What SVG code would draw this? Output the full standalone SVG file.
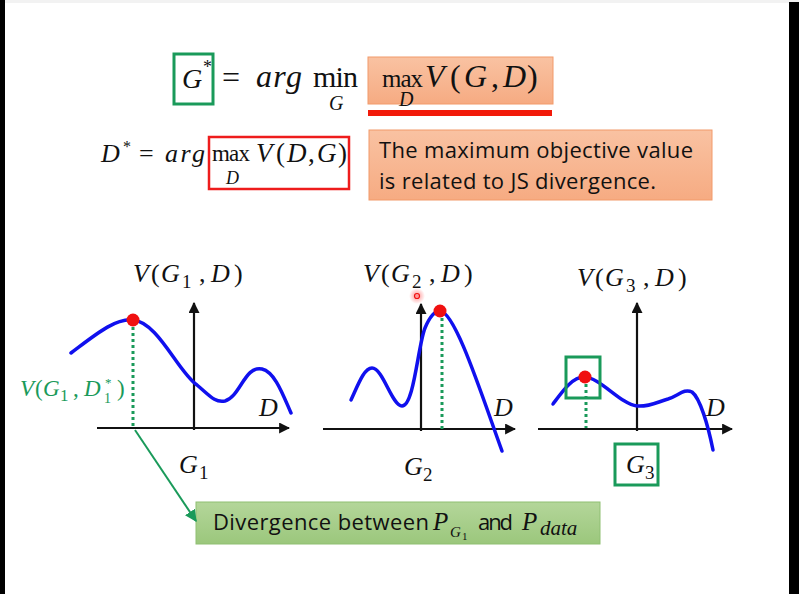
<svg xmlns="http://www.w3.org/2000/svg" width="799" height="594" viewBox="0 0 799 594">
<style>
.m{font-family:"Liberation Serif","DejaVu Serif",serif;fill:#111}
.i{font-style:italic}
.g{fill:#1a9a5a}
.t{font-family:"Open Sans","Liberation Sans",sans-serif;fill:#111}
.ax{stroke:#111;stroke-width:2.2;fill:none}
.cv{stroke:#1010ee;stroke-width:3.5;fill:none;stroke-linecap:round}
.dot{fill:#f01010}
.dt{stroke:#1a9a5a;stroke-width:3;stroke-dasharray:3 3;fill:none}
.gb{fill:none;stroke:#1a9a5a;stroke-width:3}
</style>
<defs>
<marker id="ah" viewBox="0 0 10 10" refX="9" refY="5" markerWidth="5" markerHeight="5" orient="auto"><path d="M0,0 L10,5 L0,10 z" fill="#111"/></marker>
<marker id="ag" viewBox="0 0 10 10" refX="9" refY="5" markerWidth="6" markerHeight="6" orient="auto"><path d="M0,0 L10,5 L0,10 z" fill="#1a9a5a"/></marker>
<linearGradient id="og" x1="0" y1="0" x2="0" y2="1"><stop offset="0" stop-color="#f9c2a2"/><stop offset="1" stop-color="#f6ab82"/></linearGradient>
<linearGradient id="gg" x1="0" y1="0" x2="0" y2="1"><stop offset="0" stop-color="#b4d69a"/><stop offset="1" stop-color="#9bc77c"/></linearGradient>
<radialGradient id="glow"><stop offset="0" stop-color="#ff6060" stop-opacity="0.7"/><stop offset="1" stop-color="#ff6060" stop-opacity="0"/></radialGradient>
</defs>
<rect width="799" height="594" fill="#fff"/>
<rect x="0" y="0" width="799" height="3" fill="#f2f2f2"/>
<rect x="0" y="0" width="5" height="594" fill="#000"/>
<rect x="789" y="2" width="10" height="592" fill="#000"/>

<g id="formula1">
<rect x="174" y="54" width="39" height="50" class="gb"/>
<text x="182" y="88" class="m i" font-size="28">G</text>
<text x="203" y="73" class="m" font-size="18">*</text>
<text x="222" y="88" class="m" font-size="32" textLength="23">=</text>
<text x="256" y="87" class="m i" font-size="32" textLength="46">arg</text>
<text x="313" y="87" class="m" font-size="30" textLength="45">min</text>
<text x="329" y="110" class="m i" font-size="20">G</text>
<rect x="368" y="57" width="185" height="47" fill="url(#og)" stroke="#f29a6a" stroke-width="1"/>
<text x="382" y="87" class="m" font-size="25" textLength="41">max</text>
<text x="399" y="106" class="m i" font-size="20">D</text>
<text y="87" class="m" font-size="32"><tspan x="425" font-style="italic">V</tspan><tspan x="450">(</tspan><tspan x="464" font-style="italic">G</tspan><tspan x="491">,</tspan><tspan x="503" font-style="italic">D</tspan><tspan x="527">)</tspan></text>
<rect x="368" y="110" width="184" height="6" fill="#f21a0a"/>
</g>

<g id="formula2">
<text x="101" y="162" class="m i" font-size="26">D</text>
<text x="123" y="152" class="m" font-size="16">*</text>
<text x="139" y="162" class="m" font-size="26" textLength="18">=</text>
<text x="165" y="162" class="m i" font-size="26" textLength="40">arg</text>
<rect x="209" y="137" width="140" height="52" fill="none" stroke="#ee1c1c" stroke-width="2.5"/>
<text x="212" y="161" class="m" font-size="23" textLength="38">max</text>
<text x="226" y="184" class="m i" font-size="18">D</text>
<text y="162" class="m" font-size="27"><tspan x="256" font-style="italic">V</tspan><tspan x="276">(</tspan><tspan x="287" font-style="italic">D</tspan><tspan x="308">,</tspan><tspan x="317" font-style="italic">G</tspan><tspan x="338">)</tspan></text>
</g>

<g id="note">
<rect x="369" y="130" width="343" height="70" fill="url(#og)" stroke="#f29a6a" stroke-width="1"/>
<text x="379" y="158" class="t" font-size="22" textLength="314">The maximum objective value</text>
<text x="379" y="189" class="t" font-size="22" textLength="277">is related to JS divergence.</text>
</g>

<g id="graph1">
<line x1="97" y1="428" x2="289" y2="428" class="ax" marker-end="url(#ah)"/>
<line x1="194" y1="430" x2="194" y2="303" class="ax" marker-end="url(#ah)"/>
<path d="M71,353 C95,335 115,318 133,320 C158,322 178,372 197,385 C210,396 215,403 225,401 C240,397 245,365 262,369 C275,372 283,395 291,413" class="cv"/>
<line x1="133" y1="327" x2="133" y2="428" class="dt"/>
<circle cx="133" cy="320" r="6.5" class="dot"/>
<text y="282" class="m" font-size="26"><tspan x="133" font-style="italic">V</tspan><tspan x="151">(</tspan><tspan x="161" font-style="italic">G</tspan><tspan x="182" y="288" font-size="19">1</tspan><tspan x="199" y="282">,</tspan><tspan x="211" font-style="italic">D</tspan><tspan x="234">)</tspan></text>
<text y="396" class="m g" font-size="23"><tspan x="20" font-style="italic">V</tspan><tspan x="35">(</tspan><tspan x="43" font-style="italic">G</tspan><tspan x="60" y="401" font-size="17">1</tspan><tspan x="73" y="396">,</tspan><tspan x="84" font-style="italic">D</tspan><tspan x="104" y="403" font-size="14">1</tspan><tspan x="105" y="387" font-size="13">*</tspan><tspan x="117" y="396">)</tspan></text>
<text x="259" y="416" class="m i" font-size="26">D</text>
<text y="473" class="m" font-size="26"><tspan x="179" font-style="italic">G</tspan><tspan x="199" y="479" font-size="19">1</tspan></text>
</g>

<g id="graph2">
<line x1="323" y1="429" x2="515" y2="429" class="ax" marker-end="url(#ah)"/>
<line x1="421" y1="431" x2="421" y2="304" class="ax" marker-end="url(#ah)"/>
<path d="M351,400 C358,385 364,368 372,368 C383,368 392,406 402,406 C414,406 418,345 425,328 C430,316 435,311 440,311 C455,312 480,390 502,451" class="cv"/>
<line x1="442" y1="318" x2="442" y2="429" class="dt"/>
<circle cx="440" cy="311" r="6.5" class="dot"/>
<text y="282" class="m" font-size="26"><tspan x="363" font-style="italic">V</tspan><tspan x="381">(</tspan><tspan x="391" font-style="italic">G</tspan><tspan x="412" y="288" font-size="19">2</tspan><tspan x="429" y="282">,</tspan><tspan x="441" font-style="italic">D</tspan><tspan x="464">)</tspan></text>
<text x="494" y="416" class="m i" font-size="26">D</text>
<text y="475" class="m" font-size="26"><tspan x="404" font-style="italic">G</tspan><tspan x="423" y="481" font-size="19">2</tspan></text>
<circle cx="417" cy="296" r="8" fill="url(#glow)"/>
<circle cx="417" cy="296" r="2.5" fill="none" stroke="#f01010" stroke-width="1.2"/>
</g>

<g id="graph3">
<line x1="538" y1="429" x2="732" y2="429" class="ax" marker-end="url(#ah)"/>
<line x1="637" y1="431" x2="637" y2="303" class="ax" marker-end="url(#ah)"/>
<path d="M553,404 C562,392 572,377 584,377 C600,377 620,404 637,406 C650,407 657,402 668,399 C678,396 684,388 692,392 C700,398 708,425 713,450" class="cv"/>
<line x1="586" y1="384" x2="586" y2="428" class="dt"/>
<circle cx="585" cy="377" r="6.5" class="dot"/>
<rect x="566" y="357" width="34" height="41" class="gb"/>
<text y="286" class="m" font-size="26"><tspan x="577" font-style="italic">V</tspan><tspan x="595">(</tspan><tspan x="605" font-style="italic">G</tspan><tspan x="626" y="292" font-size="19">3</tspan><tspan x="643" y="286">,</tspan><tspan x="655" font-style="italic">D</tspan><tspan x="678">)</tspan></text>
<text x="706" y="416" class="m i" font-size="26">D</text>
<rect x="615" y="444" width="43" height="41" class="gb"/>
<text y="473" class="m" font-size="26"><tspan x="626" font-style="italic">G</tspan><tspan x="645" y="479" font-size="19">3</tspan></text>
</g>

<g id="divergence">
<rect x="196" y="502" width="404" height="42" fill="url(#gg)" stroke="#8fbf73" stroke-width="1"/>
<text x="213" y="530" class="t" font-size="22" textLength="216">Divergence between</text>
<text x="433" y="530" class="m i" font-size="25">P</text>
<text x="450" y="537" class="m i" font-size="15">G</text>
<text x="462" y="540" class="m" font-size="11">1</text>
<text x="478" y="530" class="t" font-size="22" textLength="35">and</text>
<text x="522" y="530" class="m i" font-size="25">P</text>
<text x="540" y="535" class="m i" font-size="21">data</text>
</g>

<g id="connectors">
<line x1="135" y1="430" x2="196" y2="521" stroke="#1a9a5a" stroke-width="2" marker-end="url(#ag)"/>
</g>
</svg>
